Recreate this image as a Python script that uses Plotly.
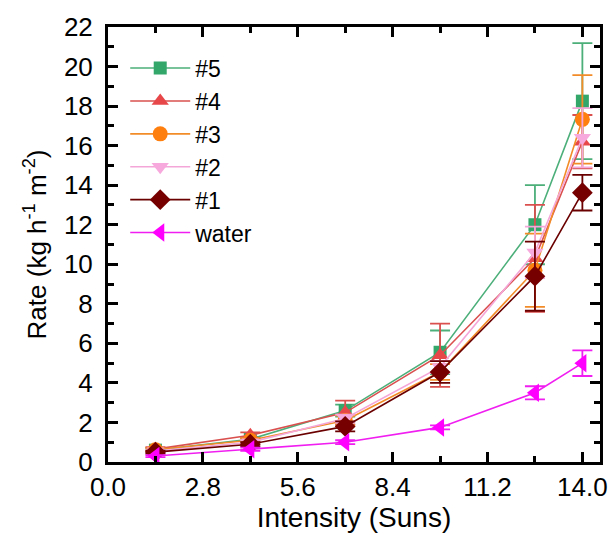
import plotly.graph_objects as go

intensity = [1.4, 4.2, 7.0, 9.8, 12.6, 14.0]

names = ["#5", "#4", "#3", "#2", "#1", "water"]
rate_5 = [0.60, 1.15, 2.60, 5.55, 12.0, 18.25]
err_5 = [0.10, 0.12, 0.30, 1.10, 2.00, 2.93]
rate_4 = [0.65, 1.35, 2.50, 5.40, 10.3, 16.2]
err_4 = [0.10, 0.15, 0.60, 1.60, 2.70, 1.35]
rate_3 = [0.62, 1.10, 2.10, 4.55, 9.70, 17.33]
err_3 = [0.08, 0.10, 0.25, 0.40, 1.85, 2.24]
rate_2 = [0.55, 1.00, 2.20, 4.80, 10.6, 16.4]
err_2 = [0.08, 0.10, 0.20, 0.30, 1.30, 1.50]
rate_1 = [0.50, 0.90, 1.80, 4.55, 9.40, 13.62]
err_1 = [0.08, 0.10, 0.25, 0.55, 1.75, 0.90]
rate_w = [0.30, 0.65, 1.00, 1.75, 3.50, 5.00]
err_w = [0.05, 0.08, 0.10, 0.10, 0.33, 0.65]

series = [rate_5, rate_4, rate_3, rate_2, rate_1, rate_w]
errors = [err_5, err_4, err_3, err_2, err_1, err_w]
line_colors = ["#4CAF7A", "#D9504F", "#F28C28", "#F4A6D8", "#6B0000", "#F01EF0"]
marker_colors = ["#33A66A", "#E8474A", "#FF7F0E", "#F7A8DC", "#760000", "#FF00FF"]
symbols = ["square", "triangle-up", "circle", "triangle-down", "diamond", "triangle-left"]
sizes = [13, 15, 15, 15, 16, 16]

fig = go.Figure()
for name, y, e, lc, mc, sym, sz in zip(names, series, errors, line_colors, marker_colors, symbols, sizes):
    fig.add_trace(go.Scatter(
        x=intensity, y=y, name=name, mode="lines+markers",
        line=dict(color=lc, width=1.6),
        marker=dict(symbol=sym, size=sz, color=mc, line=dict(width=0)),
        error_y=dict(type="data", array=e, visible=True, color=lc, thickness=1.8, width=10),
    ))

font_fam = "Arial, Liberation Sans, sans-serif"
axis_common = dict(
    showline=True, linecolor="black", linewidth=2.5, mirror="ticks",
    ticks="inside", ticklen=10, tickwidth=2.5, tickcolor="black",
    showgrid=False, zeroline=False,
    tickfont=dict(family=font_fam, size=26, color="black"),
)

fig.update_xaxes(
    range=[0, 14.52], tick0=0, dtick=2.8, tickformat=".1f",
    minor=dict(ticks="inside", ticklen=6, tickwidth=2.5, tickcolor="black", dtick=1.4, tick0=0),
    title=dict(text="Intensity (Suns)", font=dict(family=font_fam, size=28, color="black"), standoff=2),
    **axis_common,
)
fig.update_yaxes(
    range=[0, 22], tick0=0, dtick=2, ticksuffix="\u00a0",
    minor=dict(ticks="inside", ticklen=6, tickwidth=2.5, tickcolor="black", dtick=1, tick0=0),
    title=dict(text="Rate (kg h<sup>-1</sup> m<sup>-2</sup>)", font=dict(family=font_fam, size=26, color="black"), standoff=10),
    **axis_common,
)

fig.update_layout(
    width=611, height=539,
    margin=dict(l=108, r=11, t=27, b=77, autoexpand=False),
    plot_bgcolor="white", paper_bgcolor="white",
    font=dict(family=font_fam, color="black"),
    legend=dict(
        x=0.035, y=0.955, xanchor="left", yanchor="top",
        bgcolor="rgba(0,0,0,0)", font=dict(family=font_fam, size=23, color="black"),
        tracegroupgap=0, itemwidth=60,
    ),
)

fig.write_html("out.html", config={"displayModeBar": False},
               post_script="document.body.style.margin='0px';")
